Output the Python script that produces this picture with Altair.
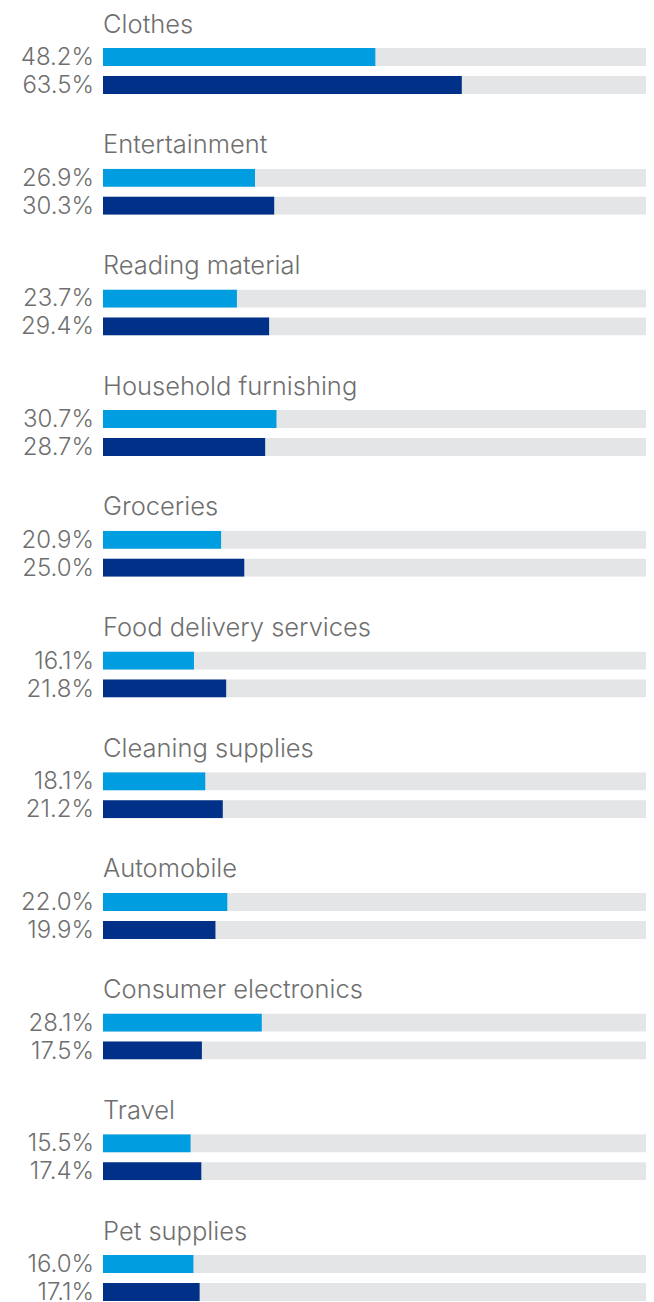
import altair as alt
import pandas as pd

categories = [
    "Clothes", "Entertainment", "Reading material", "Household furnishing",
    "Groceries", "Food delivery services", "Cleaning supplies", "Automobile",
    "Consumer electronics", "Travel", "Pet supplies",
]
light_values = [48.2, 26.9, 23.7, 30.7, 20.9, 16.1, 18.1, 22.0, 28.1, 15.5, 16.0]
dark_values = [63.5, 30.3, 29.4, 28.7, 25.0, 21.8, 21.2, 19.9, 17.5, 17.4, 17.1]
series_names = ["Series A", "Series B"]
series_colors = ["#009ee0", "#003087"]

rows = []
for c, a, b in zip(categories, light_values, dark_values):
    rows.append({"category": c, "series": series_names[0], "value": a, "full": 100})
    rows.append({"category": c, "series": series_names[1], "value": b, "full": 100})
df = pd.DataFrame(rows)

FONT = "Inter"
TEXT_COLOR = "#6f6f6f"
W, H = 543, 46

xs = alt.Scale(domain=[0, 96.1], nice=False, zero=True)
y = alt.Y("series:N", sort=series_names, axis=None,
          scale=alt.Scale(paddingInner=10 / 28, paddingOuter=0))

bg = alt.Chart().mark_bar(color="#e4e5e7", clip=True).encode(
    x=alt.X("full:Q", scale=xs, axis=None), y=y)
bars = alt.Chart().mark_bar(clip=True).encode(
    x=alt.X("value:Q", scale=xs, axis=None), y=y,
    color=alt.Color("series:N", scale=alt.Scale(domain=series_names, range=series_colors), legend=None))
labels = alt.Chart().transform_calculate(
    label="format(datum.value, '.1f') + '%'"
).mark_text(align="right", baseline="middle", dx=-9, dy=1, fontSize=24, font=FONT,
            fontWeight=300, color=TEXT_COLOR).encode(
    x=alt.value(0), y=y, text="label:N")

chart = alt.layer(bg, bars, labels, data=df).properties(width=W, height=H).facet(
    facet=alt.Facet("category:N", sort=categories,
                    header=alt.Header(title=None, labelAnchor="start", labelAlign="left",
                                      labelFontSize=25.5, labelFont=FONT, labelColor=TEXT_COLOR,
                                      labelFontWeight=300, labelPadding=8)),
    columns=1, spacing=34.7,
).configure_view(stroke=None).properties(padding={"left": 12, "top": 4, "right": 0, "bottom": 0})

chart.save("out.html", embed_options={"renderer": "svg", "actions": False})
